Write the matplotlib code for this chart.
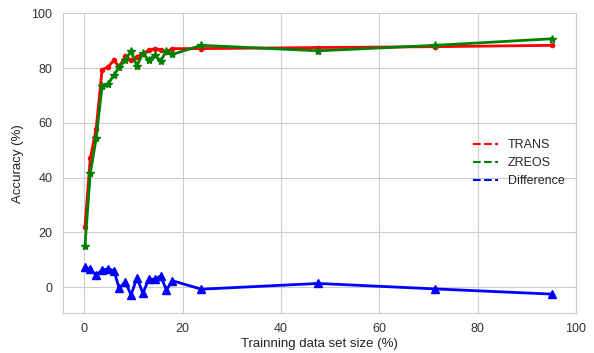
import matplotlib
matplotlib.use("Agg")
import matplotlib.pyplot as plt
from matplotlib.lines import Line2D
import seaborn as sns

x = [0.12, 1.2, 2.4, 3.6, 4.8, 6.0, 7.1, 8.3, 9.5, 10.7, 11.9, 13.1, 14.3, 15.5,
     16.7, 17.9, 23.8, 47.6, 71.4, 95.2]
trans = [22.0, 47.0, 57.9, 79.4, 80.4, 82.8, 80.4, 84.3, 82.8, 84.1, 85.3, 86.5,
         87.1, 86.7, 85.9, 87.1, 87.1, 87.5, 87.8, 88.3]
zreos = [15.0, 41.5, 54.3, 73.4, 74.1, 77.4, 80.4, 82.8, 86.2, 80.8, 85.5, 82.8,
         84.7, 82.6, 86.2, 85.0, 88.3, 86.3, 88.3, 90.7]
diff = [7.4, 6.4, 4.4, 6.2, 6.6, 6.0, -0.5, 1.9, -2.9, 3.4, -2.3, 2.9, 2.8, 4.0,
        -1.1, 2.3, -0.8, 1.3, -0.7, -2.6]
labels = ["TRANS", "ZREOS", "Difference"]
colors = ["red", "green", "blue"]

sns.set_style("whitegrid")
plt.rcParams['font.family'] = ['Liberation Sans', 'DejaVu Sans']

fig = plt.figure(figsize=(5.94, 3.53), dpi=100)
ax = fig.add_axes([0.1056, 0.1133, 0.8641, 0.849])

ax.plot(x, trans, color=colors[0], marker='o', markersize=3, linewidth=2)
ax.plot(x, zreos, color=colors[1], marker='*', markersize=6, linewidth=2)
ax.plot(x, diff, color=colors[2], marker='^', markersize=6, linewidth=2)

ax.set_xlim(-4.4, 100)
ax.set_ylim(-9.5, 100)
ax.set_xticks([0, 20, 40, 60, 80, 100])
ax.set_yticks([0, 20, 40, 60, 80, 100])
ax.tick_params(labelsize=9, colors='#333333', pad=4)
ax.set_xlabel("Trainning data set size (%)", fontsize=9.5, color='#222222', labelpad=2)
ax.set_ylabel("Accuracy (%)", fontsize=9.5, color='#222222', labelpad=5)

for s in ax.spines.values():
    s.set_color('#cccccc')

handles = [Line2D([0], [0], color=c, linestyle='--', linewidth=1.5) for c in colors]
ax.legend(handles, labels, loc='center right', bbox_to_anchor=(1.0, 0.50),
          frameon=False, fontsize=9, handlelength=2.0)

fig.savefig("out.png", dpi=100)
